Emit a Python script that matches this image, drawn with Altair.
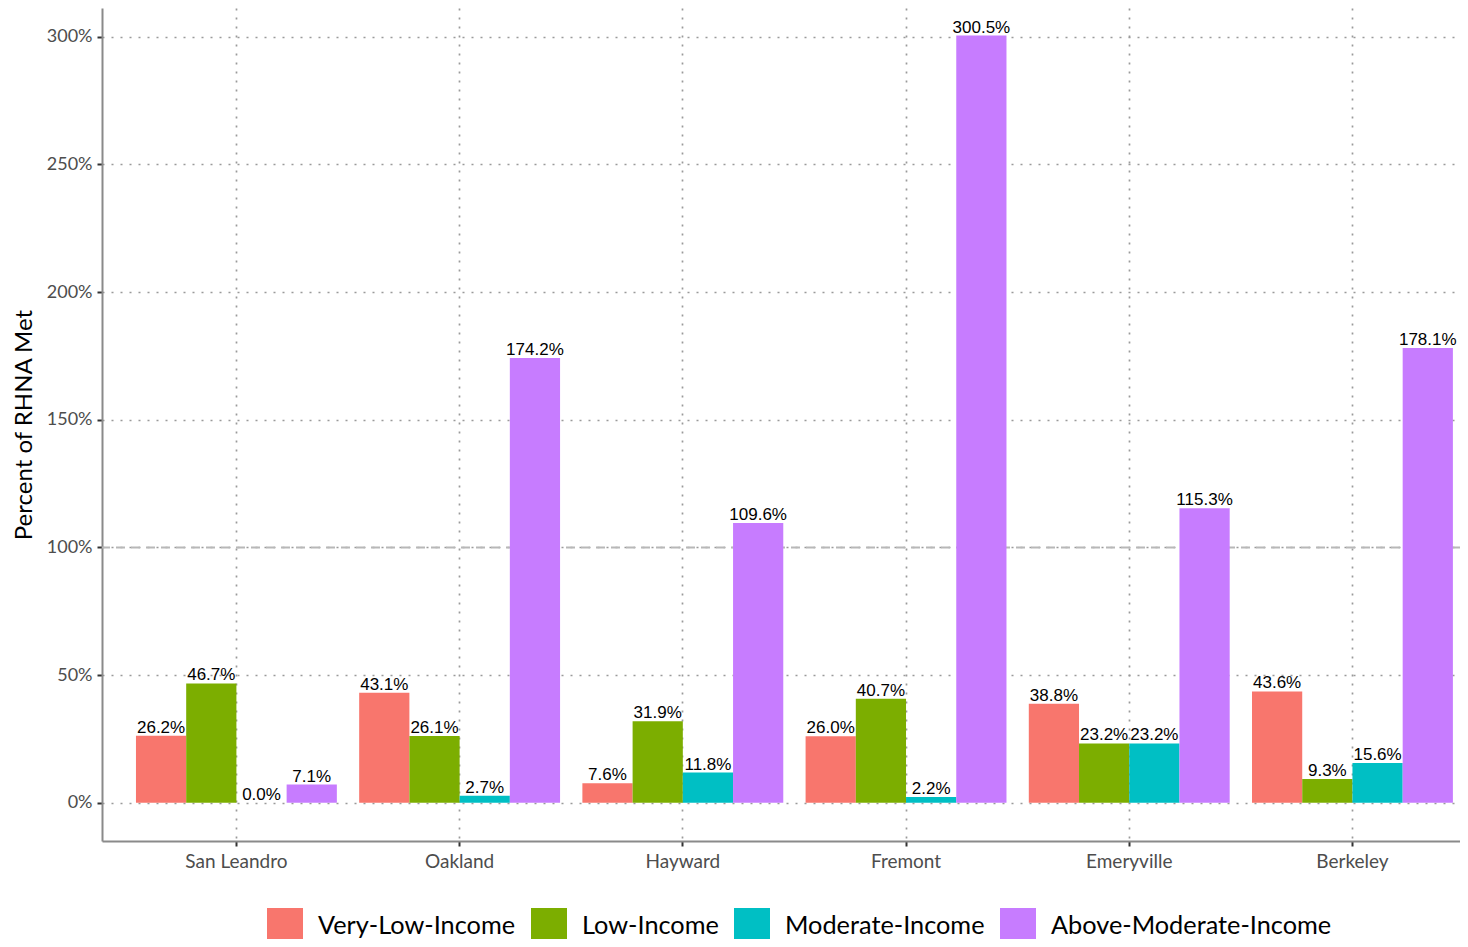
import altair as alt
import pandas as pd

cities = ["San Leandro", "Oakland", "Hayward", "Fremont", "Emeryville", "Berkeley"]
categories = ["Very-Low-Income", "Low-Income", "Moderate-Income", "Above-Moderate-Income"]
very_low = [26.2, 43.1, 7.6, 26.0, 38.8, 43.6]
low = [46.7, 26.1, 31.9, 40.7, 23.2, 9.3]
moderate = [0.0, 2.7, 11.8, 2.2, 23.2, 15.6]
above = [7.1, 174.2, 109.6, 300.5, 115.3, 178.1]
colors = ["#F8766D", "#7CAE00", "#00BFC4", "#C77CFF"]
y_ticks = [0, 50, 100, 150, 200, 250, 300]

series = [very_low, low, moderate, above]
rows = []
for cat, vals in zip(categories, series):
    for city, v in zip(cities, vals):
        rows.append({"city": city, "category": cat, "value": v, "label": f"{v:.1f}%"})
df = pd.DataFrame(rows)

FONT = "Lato"
W, H = 1358, 833

x_enc = alt.X(
    "city:N",
    sort=cities,
    scale=alt.Scale(paddingInner=0.1, paddingOuter=0.092, align=0.827),
    axis=alt.Axis(
        title=None, bandPosition=0.5, grid=True, gridDash=[2, 7], gridColor="#9a9a9a",
        gridWidth=1.7, domainColor="#8a8a8a", domainWidth=2, tickColor="#333333",
        tickSize=5, tickWidth=2, labelFont=FONT, labelFontSize=19, labelColor="#4d4d4d",
        labelPadding=6, labelAngle=0,
    ),
)
xoff = alt.XOffset("category:N", sort=categories, scale=alt.Scale(paddingInner=0, paddingOuter=0))
y_scale = alt.Scale(domain=[-15.0, 311.3], nice=False, zero=False)

base = alt.Chart(df)

bars = base.mark_bar().encode(
    x=x_enc,
    xOffset=xoff,
    y=alt.Y(
        "value:Q",
        scale=y_scale,
        axis=alt.Axis(
            title="Percent of RHNA Met", values=y_ticks, labelExpr="datum.value + '%'",
            grid=True, gridDash=[2, 7], gridColor="#9a9a9a", gridWidth=1.7,
            domainColor="#8a8a8a", domainWidth=2, tickColor="#333333", tickSize=5,
            tickWidth=2, labelFont=FONT, labelFontSize=18, labelColor="#4d4d4d",
            labelPadding=5, titleFont=FONT, titleFontSize=24, titleFontWeight="normal",
            titleColor="#000000", titlePadding=10,
        ),
    ),
    y2=alt.datum(0),
    color=alt.Color(
        "category:N",
        sort=categories,
        scale=alt.Scale(domain=categories, range=colors),
        legend=alt.Legend(
            title=None, orient="none", direction="horizontal", columns=4,
            legendX=165, legendY=900, symbolType="square", symbolSize=1296,
            symbolStrokeWidth=0, symbolOpacity=1, labelFont=FONT, labelFontSize=25.3,
            labelColor="#000000", labelOffset=15, columnPadding=15, padding=0,
            labelLimit=400,
        ),
    ),
)

text = base.mark_text(
    baseline="alphabetic", dy=-3, font="Liberation Sans", fontSize=17, color="#000000"
).encode(
    x=alt.X("city:N", sort=cities),
    xOffset=xoff,
    y=alt.Y("value:Q", scale=y_scale),
    text="label:N",
)

rule = alt.Chart(pd.DataFrame({"v": [100]})).mark_rule(
    color="#b8b8b8", strokeWidth=2, strokeDash=[9, 6]
).encode(y=alt.Y("v:Q", scale=y_scale))

chart = alt.layer(rule, bars, text).properties(
    width=W, height=H,
    autosize=alt.AutoSizeParams(type="none"),
    padding={"left": 94, "top": 0, "right": 0, "bottom": 98},
).configure_view(stroke=None)

chart.save("out.html", embed_options={"renderer": "svg", "actions": False})
